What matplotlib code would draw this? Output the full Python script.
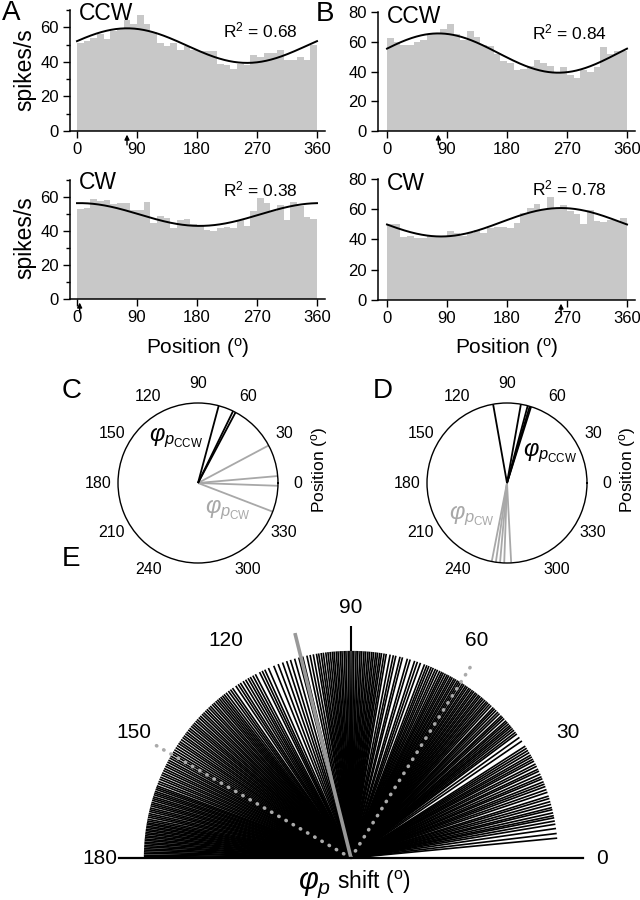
import numpy as np
import matplotlib
matplotlib.use('Agg')
import matplotlib.pyplot as plt
from matplotlib.transforms import blended_transform_factory

plt.rcParams['font.family'] = ['Liberation Sans', 'DejaVu Sans']
plt.rcParams['mathtext.fontset'] = 'custom'
plt.rcParams['mathtext.rm'] = 'Liberation Sans'
plt.rcParams['mathtext.it'] = 'Liberation Sans:italic'
plt.rcParams['mathtext.bf'] = 'Liberation Sans:bold'

# ---------------- data ----------------
bin_left = list(range(0, 360, 10))          # 10-degree position bins
pos_ticks = [0, 90, 180, 270, 360]

a_ccw = [51, 52, 54, 56, 53, 58, 59, 64, 62, 67, 62, 57, 51, 49, 51, 47, 49, 47,
         46, 46, 46, 39, 38, 36, 39, 38, 44, 43, 45, 45, 47, 41, 41, 43, 41, 50]
a_cw = [53, 53.5, 59, 57.5, 58.5, 56, 56.5, 56.5, 52.5, 52.5, 57, 45, 49, 47.5, 42, 46.5, 47, 44,
        43, 40.5, 40, 42, 42.5, 41.5, 46.5, 43, 51.5, 59.5, 56.5, 51.5, 55.5, 46.5, 57, 54.5, 48.5, 47]
b_ccw = [62.5, 59.5, 58, 58, 60, 61, 65.5, 66, 68.5, 72, 65.5, 61, 67.5, 63, 58, 57, 52, 47,
         45.5, 41, 41.5, 43.5, 48, 45.5, 43.5, 40, 43, 37.5, 35.5, 41, 40, 43, 56.5, 52, 54, 53.5]
b_cw = [50, 50, 41.5, 42.5, 41, 41, 42, 42.5, 42, 45.5, 44.5, 42, 44.5, 46.5, 44.5, 47.5, 48, 48.5,
        47.5, 51, 57.5, 61, 63.5, 59.5, 68, 61, 62.5, 59, 57, 50, 59.5, 52, 51.5, 53, 52, 54]

# cosine fits: (mean, amplitude, preferred position phi_p)
a_ccw_fit = (49.4, 10.0, 75)
a_cw_fit = (49.7, 6.7, 4)
b_ccw_fit = (52.4, 13.2, 77)
b_cw_fit = (51.4, 9.4, 261)
r2_labels = ['0.68', '0.38', '0.84', '0.78']

# panel C / D: preferred positions (deg)
c_ccw = [75, 62, 64]
c_cw = [28, 5, 358, 339]
d_ccw = [100, 80, 75, 73.5, 72.5]
d_cw = [259, 262, 265, 268, 273]
polar_ticks = [0, 30, 60, 90, 120, 150, 180, 210, 240, 270, 300, 330]
polar_labels = ['0', '30', '60', '90', '120', '150', '180', '210', '240', '', '300', '330']

# panel E: phi_p shift for the population (deg)
shift = [5.5, 6.8, 8.2, 9.4,
         10.3, 11.2, 11.8, 12.6, 13.5, 14.1, 15.0, 15.8, 16.7, 17.4, 18.5, 19.3,
         20.2, 20.9, 21.6, 22.5, 23.1, 23.9, 24.8, 25.4, 26.3, 27.0, 27.9, 28.5, 29.2, 29.8,
         30.6, 31.3, 32.0, 32.7, 34.4, 35.6, 36.8, 37.4, 38.1, 38.7, 39.3, 39.8,
         40.4, 41.0, 41.5, 42.3, 42.9, 43.4, 44.2, 44.8, 45.5, 46.1, 46.6, 47.4, 48.0, 48.6, 49.1, 49.7,
         50.3, 50.8, 51.4, 51.9, 52.5, 53.0, 53.6, 54.1, 54.7, 55.2, 55.8, 56.3, 56.9, 57.4, 58.0,
         58.5, 59.0, 59.6,
         60.1, 60.7, 61.2, 61.8, 62.3, 62.9, 63.5, 64.0, 64.6, 65.3, 65.9, 66.6, 67.2, 67.9, 68.5, 69.2,
         70.4, 71.3, 72.1, 73.4, 74.2, 75.6, 76.3, 77.5, 78.2, 79.1,
         80.2, 80.8, 81.5, 82.0, 82.6, 83.1, 83.7, 84.2, 84.8, 85.3, 85.9, 86.4, 87.0, 87.5, 88.1,
         88.6, 89.2, 89.7,
         90.3, 90.8, 91.4, 91.9, 92.5, 93.0, 93.6, 94.1, 94.7, 95.2, 95.8, 96.4, 97.0, 97.7, 98.3,
         99.0, 99.6,
         100.5, 101.4, 102.3, 103.5, 104.6, 105.8, 107.0, 108.1, 109.3,
         110.6, 111.9, 113.5, 114.6, 115.4, 116.2, 117.5, 118.3, 119.1, 119.8,
         120.6, 121.4, 122.3, 123.0, 123.8, 124.9, 125.6, 126.3, 127.1, 127.8, 128.4, 129.0, 129.6,
         130.2, 130.8, 131.5, 132.1, 132.8, 133.4, 134.1, 134.7, 135.4, 136.0, 136.7, 137.3, 138.0,
         138.6, 139.3, 139.9,
         140.5, 141.2, 141.8, 142.5, 143.1, 143.8, 144.4, 145.1, 145.8, 146.4, 147.1, 147.8, 148.5,
         149.2, 149.8,
         150.5, 151.1, 151.8, 152.4, 153.1, 153.7, 154.4, 155.0, 155.7, 156.3, 157.0, 157.6, 158.3,
         158.9, 159.6,
         160.1, 160.6, 161.2, 161.7, 162.2, 162.8, 163.3, 163.8, 164.4, 164.9, 165.4, 166.0, 166.5,
         167.0, 167.6, 168.1, 168.6, 169.2, 169.7,
         170.2, 170.6, 171.1, 171.5, 172.0, 172.4, 172.9, 173.3, 173.8, 174.2, 174.7, 175.1, 175.6,
         176.0, 176.5, 176.9, 177.4, 177.8, 178.3, 178.7, 179.2, 179.6]
shift_mean = 104
shift_dotted = [150, 58]
fan_ticks = [0, 30, 60, 90, 120, 150, 180]

# ---------------- layout helpers ----------------
W, H = 640, 900
fig = plt.figure(figsize=(W / 100, H / 100), dpi=100)


def rect(l, t, r, b):
    return [l / W, 1 - b / H, (r - l) / W, (b - t) / H]


def fpos(x, y):
    return x / W, 1 - y / H


BAR = '#c8c8c8'


def hist_panel(r, vals, fit, r2, name, ylim, yt, minor, xlim, r2y, namey):
    ax = fig.add_axes(rect(*r))
    ax.bar(bin_left, vals, width=10, align='edge', color=BAR, linewidth=0)
    m, a, ph = fit
    xx = np.linspace(0, 360, 361)
    ax.plot(xx, m + a * np.cos(np.radians(xx - ph)), color='k', lw=1.4)
    ax.set_xlim(*xlim)
    ax.set_ylim(*ylim)
    ax.set_xticks(pos_ticks)
    ax.set_yticks(yt)
    if minor is not None:
        ax.set_yticks(minor, minor=True)
        ax.tick_params(axis='y', which='minor', length=3, width=1, direction='out')
    for s in ['top', 'right']:
        ax.spines[s].set_visible(False)
    for s in ['left', 'bottom']:
        ax.spines[s].set_linewidth(1.1)
    ax.tick_params(axis='both', which='major', length=5, width=1, direction='out', labelsize=12, pad=3)
    tr = blended_transform_factory(ax.transData, ax.transAxes)
    ax.annotate('', xy=(ph, -0.03), xycoords=tr, xytext=(ph, -0.115), textcoords=tr,
                arrowprops=dict(arrowstyle='-|>', color='k', lw=1.0, mutation_scale=7,
                                shrinkA=0, shrinkB=0), annotation_clip=False)
    ax.text(0.035, namey, name, transform=ax.transAxes, fontsize=16.5, ha='left', va='center')
    ax.text(0.6, r2y, r'R$^2$ = ' + r2, transform=ax.transAxes, fontsize=12.5, ha='left', va='center')
    return ax


hist_panel((70, 10, 325, 131), a_ccw, a_ccw_fit, r2_labels[0], 'CCW', (0, 70), [0, 20, 40, 60],
           [10, 30, 50, 70], (-10.5, 372), 0.83, 0.975)
hist_panel((70, 180, 325, 299), a_cw, a_cw_fit, r2_labels[1], 'CW', (0, 70), [0, 20, 40, 60],
           [10, 30, 50, 70], (-10.5, 372), 0.92, 0.975)
hist_panel((378, 12, 635, 131), b_ccw, b_ccw_fit, r2_labels[2], 'CCW', (0, 80), [0, 20, 40, 60, 80],
           None, (-13.5, 372), 0.83, 0.96)
hist_panel((378, 179, 635, 300), b_cw, b_cw_fit, r2_labels[3], 'CW', (0, 80), [0, 20, 40, 60, 80],
           None, (-13.5, 372), 0.92, 0.96)

for y in (70, 238):
    fig.text(*fpos(25, y), 'spikes/s', rotation=90, fontsize=16.5, ha='center', va='center')
for x in (198, 507):
    fig.text(*fpos(x, 348), r'Position ($^{\mathrm{o}}$)', fontsize=15, ha='center', va='center')

# ---------------- polar panels C, D ----------------
GRAY = '#a8a8a8'


def polar_panel(cx, cy, ccw, cw, txt_ccw, txt_cw, side_x):
    ax = fig.add_axes(rect(cx - 80, cy - 80, cx + 80, cy + 80), projection='polar')
    ax.set_ylim(0, 1)
    ax.set_yticks([])
    ax.grid(False)
    ax.set_xticks(np.radians(polar_ticks))
    ax.set_xticklabels(polar_labels)
    ax.tick_params(axis='x', direction='out', length=4, width=1, pad=3, labelsize=11.5)
    ax.spines['polar'].set_linewidth(1.0)
    ax.vlines(np.radians(cw), 0, 1, colors=GRAY, lw=1.3)
    ax.vlines(np.radians(ccw), 0, 1, colors='k', lw=1.3)
    fig.text(*fpos(*txt_ccw), r'$\varphi_{p_{\mathrm{CCW}}}$', fontsize=17, ha='center', va='center', color='k')
    fig.text(*fpos(*txt_cw), r'$\varphi_{p_{\mathrm{CW}}}$', fontsize=17, ha='center', va='center', color=GRAY)
    fig.text(*fpos(side_x, 470), r'Position ($^{\mathrm{o}}$)', rotation=90, fontsize=12.5,
             ha='center', va='center')
    return ax


polar_panel(198, 483, c_ccw, c_cw, (176, 438), (228, 510), 320)
polar_panel(507, 483, d_ccw, d_cw, (550, 453), (472, 516), 628)

# ---------------- fan panel E ----------------
ox, oy, R = 351, 858, 232          # target origin (px) and pixel radius of r = 1.12
axE = fig.add_axes(rect(ox - R, oy - R, ox + R, oy + R), projection='polar')
axE.set_thetamin(0)
axE.set_thetamax(180)
axE.set_ylim(0, 1.12)
axE.set_yticks([])
axE.grid(False)
axE.spines['polar'].set_visible(False)
axE.spines['inner'].set_visible(False)
for s in ['start', 'end']:
    axE.spines[s].set_linewidth(1.6)
axE.set_xticks(np.radians(fan_ticks))
axE.set_xticklabels([str(t) for t in fan_ticks])
axE.tick_params(axis='x', length=0, pad=6.5, labelsize=15)
axE.vlines(np.radians(shift), 0, 1, colors='k', lw=1.2)
axE.vlines(np.radians(90), 1.0, 1.12, colors='k', lw=1.5)
for d in shift_dotted:
    axE.plot([np.radians(d)] * 2, [0, 1.1], color='#aaaaaa', lw=2.6, linestyle=(0, (0.1, 2.2)),
             dash_capstyle='round')
axE.vlines(np.radians(shift_mean), 0, 1.12, colors='#999999', lw=2.6)

# place the half-disc so that its origin / radius land where the reference has them
for _ in range(3):
    fig.canvas.draw()
    o = axE.transData.transform((0, 0))
    p = axE.transData.transform((0, 1.12))
    cur_r = p[0] - o[0]
    cur_ox, cur_oy = o[0], H - o[1]
    k = R / cur_r
    pos = axE.get_position(original=True)
    l, b, w, h = pos.x0 * W, pos.y0 * H, pos.width * W, pos.height * H
    t = H - (b + h)
    nl = ox + (l - cur_ox) * k
    nt = oy + (t - cur_oy) * k
    nw, nh = w * k, h * k
    axE.set_position([nl / W, 1 - (nt + nh) / H, nw / W, nh / H])

fig.text(*fpos(331, 889), r'$\varphi_p$', fontsize=22, ha='right', va='baseline')
fig.text(*fpos(337, 889), r'shift ($^{\mathrm{o}}$)', fontsize=16.5, ha='left', va='baseline')

# ---------------- panel letters ----------------
for lab, (x, y) in zip('ABCDE', [(11, 13), (325, 14), (72, 391), (383, 391), (71, 559)]):
    fig.text(*fpos(x, y), lab, fontsize=20, ha='center', va='center')

fig.savefig('out.png', dpi=100)
